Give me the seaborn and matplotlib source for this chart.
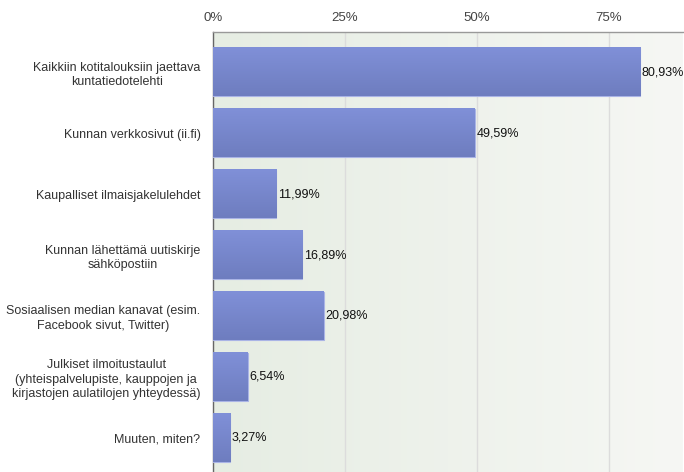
import numpy as np
import pandas as pd
import matplotlib.pyplot as plt
import seaborn as sns
from matplotlib.colors import LinearSegmentedColormap

sns.set_theme(style="white")
plt.rcParams['font.family'] = ['Liberation Sans', 'DejaVu Sans']

categories = [
    "Kaikkiin kotitalouksiin jaettava\nkuntatiedotelehti",
    "Kunnan verkkosivut (ii.fi)",
    "Kaupalliset ilmaisjakelulehdet",
    "Kunnan lähettämä uutiskirje\nsähköpostiin",
    "Sosiaalisen median kanavat (esim.\nFacebook sivut, Twitter)",
    "Julkiset ilmoitustaulut\n(yhteispalvelupiste, kauppojen ja\nkirjastojen aulatilojen yhteydessä)",
    "Muuten, miten?",
]
values = [80.93, 49.59, 11.99, 16.89, 20.98, 6.54, 3.27]
tick_labels = ["0%", "25%", "50%", "75%"]

df = pd.DataFrame({'cat': categories, 'pct': values})

fig = plt.figure(figsize=(6.84, 4.72), dpi=100)
ax = fig.add_axes([213 / 684, 0.0, 470 / 684, 1 - 32 / 472])

sns.barplot(data=df, y='cat', x='pct', orient='h', color='#7887cf',
            width=0.79, ax=ax, zorder=3)

ax.set_xlim(0, 89)
ax.set_ylim(6.56, -0.66)

# background gradient
bg = np.linspace(0, 1, 256).reshape(1, -1)
bg_cmap = LinearSegmentedColormap.from_list('bg', ['#e6ede3', '#f6f7f4'])
ax.imshow(bg, cmap=bg_cmap, aspect='auto', extent=[0, 89, 6.56, -0.66], zorder=0)

# bar gradient
bar_cmap = LinearSegmentedColormap.from_list('bar', ['#8090d8', '#6e7dbf'])
grad = np.linspace(0, 1, 100).reshape(-1, 1)
for p in ax.patches:
    x0, y0 = p.get_x(), p.get_y()
    w, h = p.get_width(), p.get_height()
    p.set_edgecolor('#aab4e6')
    p.set_linewidth(0.8)
    ax.imshow(grad, cmap=bar_cmap, aspect='auto',
              extent=[x0, x0 + w, y0 + h, y0], zorder=3.5)
    ax.text(x0 + w + 0.3, y0 + h / 2, f"{w:.2f}%".replace('.', ','),
            va='center', ha='left', fontsize=9, color='#111111', zorder=5)

ax.set_xticks([0, 25, 50, 75])
ax.set_xticklabels(tick_labels)
ax.xaxis.tick_top()
ax.tick_params(axis='x', top=True, length=0, labelsize=9.5,
               labelcolor='#444444', pad=6)
ax.tick_params(axis='y', left=False, labelsize=9, labelcolor='#333333', pad=3)
for t in ax.get_yticklabels():
    t.set_multialignment('center')
    t.set_linespacing(1.3)
ax.grid(axis='x', color='#dcdcdc', linewidth=1, zorder=1)
ax.set_axisbelow(True)
ax.set_xlabel('')
ax.set_ylabel('')

for s in ['right', 'bottom']:
    ax.spines[s].set_visible(False)
ax.spines['top'].set_color('#999999')
ax.spines['left'].set_color('#666666')
ax.spines['top'].set_linewidth(1)
ax.spines['left'].set_linewidth(1)

fig.savefig('out.png', dpi=100)
